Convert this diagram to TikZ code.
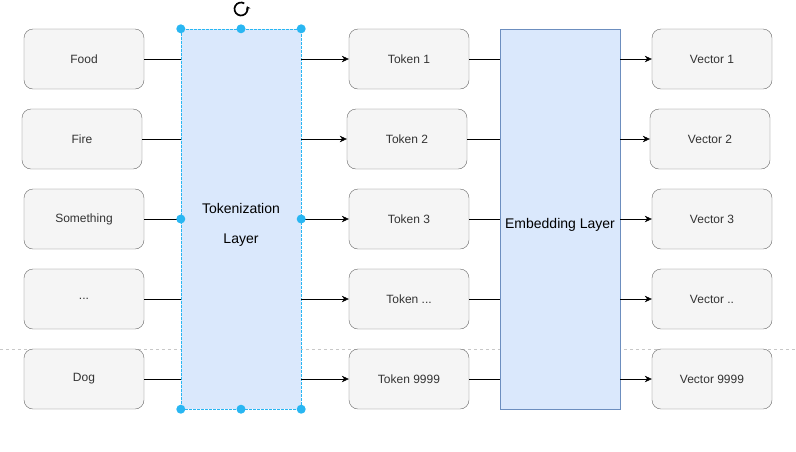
\documentclass[tikz,border=0pt]{standalone}
\usepackage{fontspec}
\setmainfont{Liberation Sans}
\usepackage{xcolor}
\usetikzlibrary{arrows.meta}
\definecolor{boxfill}{HTML}{F5F5F5}
\definecolor{boxline}{HTML}{666666}
\definecolor{boxtext}{HTML}{333333}
\definecolor{layerfill}{HTML}{DAE8FC}
\definecolor{layerline}{HTML}{6C8EBF}
\definecolor{handle}{HTML}{29B6F2}
\definecolor{pagebreak}{HTML}{C8C8C8}

\begin{document}
\begin{tikzpicture}[x=1pt,y=-1pt]
    \tikzstyle{word} = [draw=boxline,fill=boxfill,text=boxtext,rounded corners=9pt,minimum width=120pt,minimum height=60pt,inner sep=0pt,font=\fontsize{12}{14}\selectfont]
    \tikzstyle{layer} = [fill=layerfill,minimum width=120pt,minimum height=380pt,inner sep=0pt,align=center,font=\fontsize{14}{30}\selectfont]
    \tikzstyle{link} = [-{Stealth[length=7pt,width=6.5pt]}]
    \tikzstyle{grip} = [circle,fill=handle,inner sep=0pt,minimum size=9pt]
    \useasboundingbox (0,0) rectangle (796,451);
    \draw[pagebreak,dashed] (0,349) -- (796,349);

    % input words
    \node[word] at (84,59) (food) {Food};
    \node[word] at (82,139) (fire) {Fire};
    \node[word] at (84,219) (something) {Something};
    \node[word] at (84,299) (dots) {...};
    \node[word] at (84,379) (dog) {Dog};

    % layers
    \node[layer,draw=handle,dash pattern=on 3pt off 1pt] at (241,219) (toklayer) {\rule{0pt}{22pt}Tokenization\\Layer};
    \node[layer,draw=layerline] at (560,219) (emblayer) {\rule{0pt}{22pt}Embedding Layer};

    % tokens
    \node[word] at (409,59) (tok1) {Token 1};
    \node[word] at (407,139) (tok2) {Token 2};
    \node[word] at (409,219) (tok3) {Token 3};
    \node[word] at (409,299) (tokdots) {Token ...};
    \node[word] at (409,379) (tok9999) {Token 9999};

    % vectors
    \node[word] at (712,59) (vec1) {Vector 1};
    \node[word] at (710,139) (vec2) {Vector 2};
    \node[word] at (712,219) (vec3) {Vector 3};
    \node[word] at (712,299) (vecdots) {Vector ..};
    \node[word] at (712,379) (vec9999) {Vector 9999};

    \draw (food.east) -- (food.east -| toklayer.west);
    \draw (fire.east) -- (fire.east -| toklayer.west);
    \draw (something.east) -- (something.east -| toklayer.west);
    \draw (dots.east) -- (dots.east -| toklayer.west);
    \draw (dog.east) -- (dog.east -| toklayer.west);

    \draw[link] (tok1.west -| toklayer.east) -- (tok1.west);
    \draw[link] (tok2.west -| toklayer.east) -- (tok2.west);
    \draw[link] (tok3.west -| toklayer.east) -- (tok3.west);
    \draw[link] (tokdots.west -| toklayer.east) -- (tokdots.west);
    \draw[link] (tok9999.west -| toklayer.east) -- (tok9999.west);

    \draw (tok1.east) -- (tok1.east -| emblayer.west);
    \draw (tok2.east) -- (tok2.east -| emblayer.west);
    \draw (tok3.east) -- (tok3.east -| emblayer.west);
    \draw (tokdots.east) -- (tokdots.east -| emblayer.west);
    \draw (tok9999.east) -- (tok9999.east -| emblayer.west);

    \draw[link] (vec1.west -| emblayer.east) -- (vec1.west);
    \draw[link] (vec2.west -| emblayer.east) -- (vec2.west);
    \draw[link] (vec3.west -| emblayer.east) -- (vec3.west);
    \draw[link] (vecdots.west -| emblayer.east) -- (vecdots.west);
    \draw[link] (vec9999.west -| emblayer.east) -- (vec9999.west);

    % selection handles
    \node[grip] (g1) at (toklayer.north west) {};
    \node[grip] (g2) at (toklayer.north) {};
    \node[grip] (g3) at (toklayer.north east) {};
    \node[grip] (g4) at (toklayer.west) {};
    \node[grip] (g5) at (toklayer.east) {};
    \node[grip] (g6) at (toklayer.south west) {};
    \node[grip] (g7) at (toklayer.south) {};
    \node[grip] (g8) at (toklayer.south east) {};
    \coordinate (rot) at (241,9);
    \draw[line width=1.7pt,-{Stealth[length=3.5pt,width=5pt]}] (rot) ++(-60:6.5) arc (-60:-385:6.5);
\end{tikzpicture}
\end{document}
